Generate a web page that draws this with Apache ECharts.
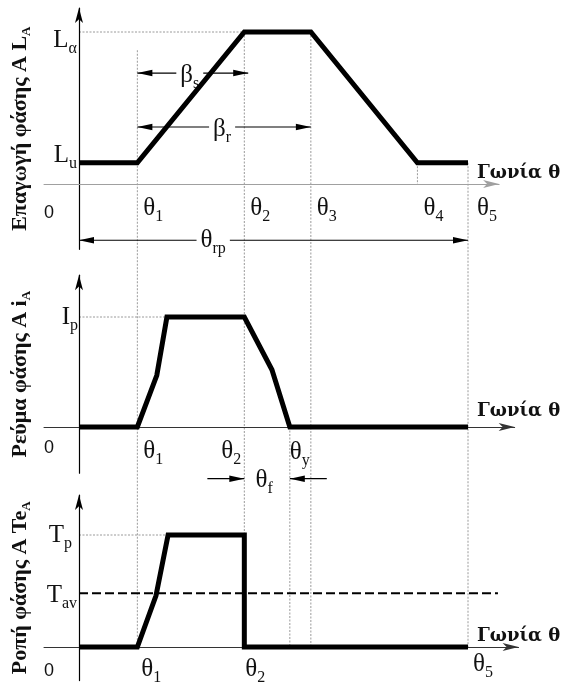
<!DOCTYPE html>
<html>
<head>
<meta charset="utf-8">
<script src="https://cdn.jsdelivr.net/npm/echarts@6/dist/echarts.min.js"></script>
<style>
  html, body { margin: 0; padding: 0; background: #fff; }
  #chart { width: 562px; height: 684px; }
</style>
</head>
<body>
<div id="chart"></div>
<script>
// ---- Rotor angle marks (same angular units on all three panels) ----
const angleMarks = [15, 42.5, 59.6, 87, 100];          // θ1 … θ5
const angleMarkSubs = ['1', '2', '3', '4', '5'];
const extinctionAngle = 54.2;                            // θy : current falls to zero

// ---- Phase inductance profile ----
const inductanceAngle = [0, 15, 42.5, 59.6, 87, 100];
const inductanceValue = [0.14, 0.14, 1, 1, 0.14, 0.14];
const inductanceAligned = 1;      // Lα
const inductanceUnaligned = 0.14; // Lu

// ---- Phase current ----
const currentAngle = [0, 15, 20, 22.6, 42.5, 49.6, 54.2, 100];
const currentValue = [0, 0, 0.47, 1, 1, 0.52, 0, 0];
const currentPeak = 1;

// ---- Phase torque ----
const torqueAngle = [0, 15, 19.8, 22.9, 42.5, 42.5, 100];
const torqueValue = [0, 0, 0.46, 1, 1, 0, 0];
const torquePeak = 1;
const torqueAverage = 0.48;
const torqueAverageEnd = 107.7;

// ---- Dimension arrows (value-axis levels) ----
const betaStatorLevel = 0.73;
const betaRotorLevel = 0.375;
const rotorPitchLevel = -0.37;
const theta1GuideTop = 0.88;
const thetaFLevel = -0.47;
const thetaFArrowLen = 9.5;

const SERIF = '"Liberation Serif", "Times New Roman", serif';
const SANS = '"Liberation Sans", Arial, sans-serif';
const INK = '#111';
const GUIDE = '#9a9a9a';

// panel layout: common horizontal scale, each panel its own vertical scale
const pxPerUnitX = 3.89;
const xMin = -9;
const originX = 79;
const panels = [
  { xMax: 108, yMin: -0.43, yMax: 1.158, pxPerUnitY: 152, axisY: 184, xColor: '#a0a0a0',
    title: '{t|Επαγωγή φάσης A L}{ts|A}' },
  { xMax: 112, yMin: -0.42, yMax: 1.38, pxPerUnitY: 110, axisY: 427, xColor: '#333',
    title: '{t|Ρεύμα φάσης A i}{ts|A}' },
  { xMax: 113, yMin: -0.30, yMax: 1.357, pxPerUnitY: 112, axisY: 647, xColor: '#333',
    title: '{t|Ροπή φάσης A Te}{ts|A}' }
];

const titleRich = {
  t: { fontFamily: SERIF, fontWeight: 'bold', fontSize: 22, color: INK, lineHeight: 26 },
  ts: { fontFamily: SERIF, fontWeight: 'bold', fontSize: 13, color: INK, lineHeight: 13, verticalAlign: 'bottom' }
};

const zip = (a, b) => a.map((v, i) => [v, b[i]]);

const chart = echarts.init(document.getElementById('chart'), null, { renderer: 'canvas', width: 562, height: 684 });

chart.setOption({
  animation: false,
  backgroundColor: '#fff',
  grid: panels.map(p => ({
    left: originX + xMin * pxPerUnitX,
    width: (p.xMax - xMin) * pxPerUnitX,
    top: p.axisY - p.yMax * p.pxPerUnitY,
    height: (p.yMax - p.yMin) * p.pxPerUnitY,
    containLabel: false,
    outerBoundsMode: 'none'
  })),
  xAxis: panels.map((p, i) => ({
    type: 'value', gridIndex: i, min: xMin, max: p.xMax,
    axisLine: { show: true, onZero: true, symbol: ['none', 'arrow'], symbolSize: [6, 16],
      lineStyle: { color: p.xColor, width: 1 } },
    axisTick: { show: false }, axisLabel: { show: false }, splitLine: { show: false }
  })),
  yAxis: panels.map((p, i) => ({
    type: 'value', gridIndex: i, min: p.yMin, max: p.yMax,
    axisLine: { show: true, onZero: true, symbol: ['none', 'arrow'], symbolSize: [6, 15],
      lineStyle: { color: '#000', width: 1.2 } },
    axisTick: { show: false }, axisLabel: { show: false }, splitLine: { show: false },
    name: p.title, nameLocation: 'middle', nameRotate: 90, nameGap: 11,
    nameTextStyle: { rich: titleRich }
  })),
  series: [
    [inductanceAngle, inductanceValue],
    [currentAngle, currentValue],
    [torqueAngle, torqueValue]
  ].map(([xs, ys], i) => ({
    type: 'line', xAxisIndex: i, yAxisIndex: i, data: zip(xs, ys),
    symbol: 'none', z: 3, silent: true,
    lineStyle: { color: '#000', width: 5, join: 'miter', cap: 'butt' }
  }))
});

// ---- annotations: guides, dimension arrows and symbol labels ----
function buildAnnotations() {
  const g = [];
  const P = (grid, x, y) => chart.convertToPixel({ gridIndex: grid }, [x, y]);

  const seg = (a, b, style, z) => g.push({
    type: 'line', silent: true, z: z || 0,
    shape: { x1: a[0], y1: a[1], x2: b[0], y2: b[1] }, style
  });
  const dotted = { stroke: GUIDE, lineWidth: 1, lineDash: [2, 1.5] };

  const head = (tip, from) => {
    const dx = tip[0] - from[0], dy = tip[1] - from[1];
    const L = Math.hypot(dx, dy), ux = dx / L, uy = dy / L;
    const len = 15, hw = 3.2;
    const bx = tip[0] - ux * len, by = tip[1] - uy * len;
    g.push({ type: 'polygon', silent: true, z: 1,
      shape: { points: [tip, [bx - uy * hw, by + ux * hw], [bx + uy * hw, by - ux * hw]] },
      style: { fill: '#000' } });
  };
  const arrow = (a, b, headA, headB) => {
    seg(a, b, { stroke: '#000', lineWidth: 1.2 }, 1);
    if (headA) head(a, b);
    if (headB) head(b, a);
  };

  const sym = (main, sub, pos, align, opts) => {
    opts = opts || {};
    const size = opts.size || 25, subSize = opts.subSize || 16;
    g.push({
      type: 'text', silent: true, z: 2, x: pos[0], y: pos[1],
      style: {
        text: sub ? `{m|${main}}{s|${sub}}` : `{m|${main}}`,
        align: align, verticalAlign: 'middle',
        backgroundColor: opts.bg || null, padding: opts.bg ? [0, 4] : 0,
        rich: {
          m: { fontFamily: opts.family || SERIF, fontSize: size, lineHeight: size + 8, fill: INK,
               fontWeight: opts.weight || 'normal' },
          s: { fontFamily: SERIF, fontSize: subSize, lineHeight: subSize, verticalAlign: 'bottom', fill: INK }
        }
      }
    });
  };
  const at = (p, dx, dy) => [p[0] + dx, p[1] + dy];

  // vertical guides through the panels
  const bottomOf = x => P(2, x, 0);
  seg(P(0, angleMarks[0], theta1GuideTop), bottomOf(angleMarks[0]), dotted);
  seg(P(0, angleMarks[1], inductanceAligned), bottomOf(angleMarks[1]), dotted);
  seg(P(0, angleMarks[2], inductanceAligned), bottomOf(angleMarks[2]), dotted);
  seg(P(0, angleMarks[3], inductanceUnaligned), P(0, angleMarks[3], 0), dotted);
  seg(P(0, angleMarks[4], inductanceUnaligned), bottomOf(angleMarks[4]), dotted);
  seg(P(1, extinctionAngle, 0), bottomOf(extinctionAngle), dotted);

  // horizontal reference levels
  seg(P(0, 0, inductanceAligned), P(0, angleMarks[1], inductanceAligned), dotted);
  seg(P(1, 0, currentPeak), P(1, currentAngle[3], currentPeak), dotted);
  seg(P(2, 0, torquePeak), P(2, torqueAngle[3], torquePeak), dotted);
  seg(P(2, 0, torqueAverage), P(2, torqueAverageEnd, torqueAverage),
      { stroke: '#000', lineWidth: 2, lineDash: [9, 4] }, 1);

  // βs, βr and θrp dimension arrows
  arrow(P(0, angleMarks[0], betaStatorLevel), P(0, angleMarks[1] + 1, betaStatorLevel), true, true);
  sym('β', 's', at(P(0, (angleMarks[0] + angleMarks[1] + 1) / 2, betaStatorLevel), -3, 2), 'center', { bg: '#fff' });
  arrow(P(0, angleMarks[0], betaRotorLevel), P(0, angleMarks[2], betaRotorLevel), true, true);
  sym('β', 'r', at(P(0, (angleMarks[0] + angleMarks[2]) / 2, betaRotorLevel), -2, 2), 'center', { bg: '#fff' });
  arrow(P(0, 0, rotorPitchLevel), P(0, angleMarks[4], rotorPitchLevel), true, true);
  sym('θ', 'rp', P(0, angleMarks[4] * 0.345, rotorPitchLevel), 'center', { bg: '#fff' });

  // θf: from θ2 to the current extinction angle
  arrow(P(1, angleMarks[1] - thetaFArrowLen, thetaFLevel), P(1, angleMarks[1], thetaFLevel), false, true);
  arrow(P(1, extinctionAngle, thetaFLevel), P(1, extinctionAngle + thetaFArrowLen, thetaFLevel), true, false);
  sym('θ', 'f', at(P(1, (angleMarks[1] + extinctionAngle) / 2, thetaFLevel), -3, 2), 'center');

  // origin labels
  const zero = (grid, dy) => sym('0', '', at(P(grid, 0, 0), -30, dy), 'center', { family: SANS, size: 18 });
  zero(0, 29); zero(1, 21); zero(2, 24);

  // angle labels, top panel
  angleMarks.forEach((a, i) => sym('θ', angleMarkSubs[i], at(P(0, a, 0), i === 4 ? 9 : 6, 24), 'left'));
  // middle panel
  sym('θ', angleMarkSubs[0], at(P(1, angleMarks[0], 0), 6, 24), 'left');
  sym('θ', angleMarkSubs[1], at(P(1, angleMarks[1], 0), -3, 24), 'right');
  sym('θ', 'y', at(P(1, extinctionAngle, 0), 0, 25), 'left');
  // bottom panel
  sym('θ', angleMarkSubs[0], at(P(2, angleMarks[0], 0), 4, 22), 'left');
  sym('θ', angleMarkSubs[1], at(P(2, angleMarks[1], 0), 1, 22), 'left');
  sym('θ', angleMarkSubs[4], at(P(2, angleMarks[4], 0), 5, 17), 'left');

  // level labels
  sym('L', 'α', at(P(0, 0, inductanceAligned), -2, 8), 'right');
  sym('L', 'u', at(P(0, 0, inductanceUnaligned), -2, -7), 'right');
  sym('I', 'p', at(P(1, 0, currentPeak), -1, 0), 'right');
  sym('T', 'p', at(P(2, 0, torquePeak), -7, 0), 'right');
  sym('T', 'av', at(P(2, 0, torqueAverage), -2, 2), 'right');

  // horizontal axis names
  const axisName = (grid, dy) => g.push({
    type: 'text', silent: true, z: 2,
    x: P(grid, angleMarks[4], 0)[0] + 9, y: P(grid, angleMarks[4], 0)[1] + dy,
    style: { text: 'Γωνία θ', fill: INK, font: `bold 18px "DejaVu Serif", serif`, align: 'left', verticalAlign: 'middle' }
  });
  axisName(0, -11); axisName(1, -16); axisName(2, -11);

  return g;
}

chart.setOption({ graphic: buildAnnotations() });
</script>
</body>
</html>
